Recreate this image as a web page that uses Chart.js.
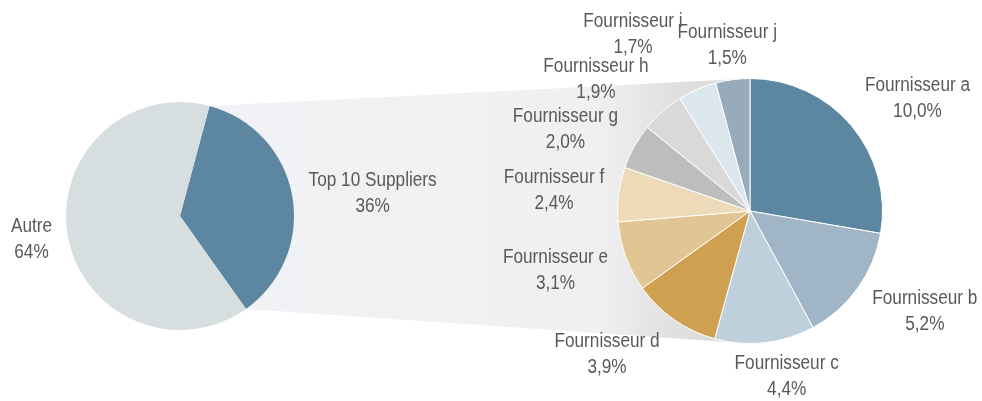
<!DOCTYPE html>
<html>
<head>
<meta charset="utf-8">
<script src="https://cdn.jsdelivr.net/npm/chart.js@4/dist/chart.umd.min.js"></script>
<style>
  body { margin: 0; background: #fff; }
  .wrap { position: relative; width: 982px; height: 401px; }
  canvas { position: absolute; left: 0; top: 0; }
</style>
</head>
<body>
<div class="wrap">
  <canvas id="overview" width="982" height="401"></canvas>
  <canvas id="suppliers" width="982" height="401"></canvas>
</div>
<script>
const overviewLabels = ['Top 10 Suppliers', 'Autre'];
const overviewValues = [36, 64];

const supplierLabels = [
  'Fournisseur a', 'Fournisseur b', 'Fournisseur c', 'Fournisseur d', 'Fournisseur e',
  'Fournisseur f', 'Fournisseur g', 'Fournisseur h', 'Fournisseur i', 'Fournisseur j'
];
const supplierValues = [10.0, 5.2, 4.4, 3.9, 3.1, 2.4, 2.0, 1.9, 1.7, 1.5];

const overviewColors = ['#5d86a0', '#d7dedf'];
const supplierColors = [
  '#5d86a0', '#a0b6c6', '#bdd0dc', '#cfa050', '#e2c595',
  '#ecdab8', '#bdbdbd', '#d9d9d9', '#dce6ed', '#98abba'
];

// narrow font is not installed, so squeeze the regular one
const FONT = "20px 'Liberation Sans', Arial, sans-serif";
const SQUEEZE = 0.86;
const LINE_H = 26;

// labels sit outside each slice, pushed out by the size of the text box
function outsideLabels(texts, nudge) {
  return {
    id: 'outsideLabels',
    afterDatasetsDraw(chart) {
      const ctx = chart.ctx;
      const arcs = chart.getDatasetMeta(0).data;
      ctx.save();
      ctx.font = FONT;
      ctx.fillStyle = '#595959';
      ctx.textAlign = 'center';
      ctx.textBaseline = 'middle';
      arcs.forEach((arc, i) => {
        const lines = texts[i];
        const hw = Math.max(...lines.map(l => ctx.measureText(l).width)) * SQUEEZE / 2;
        const hh = lines.length * LINE_H / 2;
        const mid = (arc.startAngle + arc.endAngle) / 2;
        const c = Math.cos(mid), s = Math.sin(mid);
        const d = arc.outerRadius + 10 + Math.abs(c) * hw + Math.abs(s) * hh;
        const n = nudge[i] || [0, 0];
        ctx.save();
        ctx.translate(arc.x + c * d + n[0], arc.y + s * d + n[1]);
        ctx.scale(SQUEEZE, 1);
        lines.forEach((l, k) => {
          ctx.fillText(l, 0, (k - (lines.length - 1) / 2) * LINE_H);
        });
        ctx.restore();
      });
      ctx.restore();
    }
  };
}

const pct = v => v.toFixed(1).replace('.', ',') + '%';

const supplierChart = new Chart(document.getElementById('suppliers'), {
  type: 'pie',
  data: {
    labels: supplierLabels,
    datasets: [{
      data: supplierValues,
      backgroundColor: supplierColors,
      borderColor: '#ffffff',
      borderWidth: 1
    }]
  },
  options: {
    responsive: false,
    animation: false,
    devicePixelRatio: 1,
    layout: { padding: { left: 617, right: 99, top: 78, bottom: 57 } },
    plugins: { legend: { display: false }, tooltip: { enabled: false } }
  },
  plugins: [outsideLabels(
    supplierLabels.map((l, i) => [l, pct(supplierValues[i])]),
    {
      0: [15, 16], 1: [12, -16], 2: [17, -8], 3: [-32, -16], 4: [-6, -10],
      5: [-2, 4], 6: [-9, 16], 7: [-24, 16], 8: [-43, -6], 9: [0, 8]
    }
  )]
});

// grey band joining the "Top 10" slice to the detail pie
const bandPlugin = {
  id: 'band',
  beforeDatasetsDraw(chart) {
    const arc = chart.getDatasetMeta(0).data[0];
    const big = supplierChart.getDatasetMeta(0).data[0];
    const ctx = chart.ctx;
    const x1 = arc.x + Math.cos(arc.startAngle) * arc.outerRadius;
    const y1 = arc.y + Math.sin(arc.startAngle) * arc.outerRadius;
    const x2 = arc.x + Math.cos(arc.endAngle) * arc.outerRadius;
    const y2 = arc.y + Math.sin(arc.endAngle) * arc.outerRadius;
    const g = ctx.createLinearGradient(x1, 0, big.x, 0);
    g.addColorStop(0, '#f1f2f5');
    g.addColorStop(0.72, '#f0f0f1');
    g.addColorStop(0.86, '#e0e0e0');
    g.addColorStop(1, '#d8d8d8');
    ctx.save();
    ctx.fillStyle = g;
    ctx.beginPath();
    ctx.moveTo(x1, y1);
    ctx.lineTo(big.x, big.y - big.outerRadius);
    ctx.lineTo(big.x, big.y + big.outerRadius);
    ctx.lineTo(x2, y2);
    ctx.closePath();
    ctx.fill();
    ctx.restore();
  }
};

new Chart(document.getElementById('overview'), {
  type: 'pie',
  data: {
    labels: overviewLabels,
    datasets: [{
      data: overviewValues,
      backgroundColor: overviewColors,
      borderWidth: 0
    }]
  },
  options: {
    responsive: false,
    animation: false,
    devicePixelRatio: 1,
    rotation: 15,
    layout: { padding: { left: 66, right: 688, top: 102, bottom: 71 } },
    plugins: { legend: { display: false }, tooltip: { enabled: false } }
  },
  plugins: [bandPlugin, outsideLabels(
    overviewLabels.map((l, i) => [l, overviewValues[i] + '%']),
    { 0: [4, 11], 1: [-2, -3] }
  )]
});
</script>
</body>
</html>
